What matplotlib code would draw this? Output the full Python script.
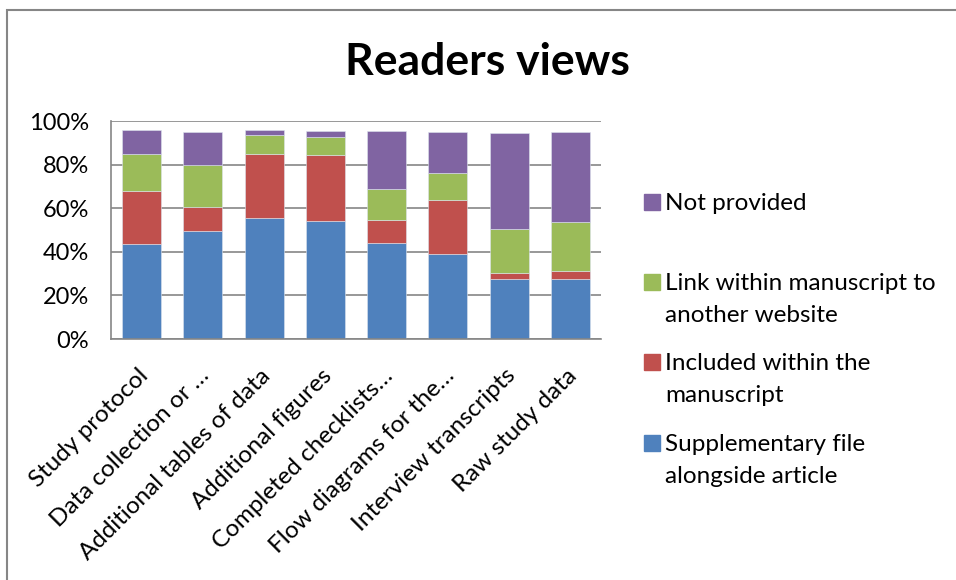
import matplotlib
matplotlib.use("Agg")
import matplotlib.pyplot as plt
import matplotlib.transforms as mtransforms
from matplotlib.patches import Rectangle
from matplotlib.ticker import PercentFormatter

# --- Data (percent of readers) ---
categories = ["Study protocol", "Data collection or \u2026", "Additional tables of data",
              "Additional figures", "Completed checklists\u2026", "Flow diagrams for the\u2026",
              "Interview transcripts", "Raw study data"]
supplementary = [43.6, 49.6, 55.4, 54.1, 44.0, 38.9, 27.6, 27.4]
included = [24.5, 11.2, 29.4, 30.3, 10.7, 24.8, 2.9, 3.8]
link = [16.7, 19.0, 9.0, 8.5, 14.3, 12.6, 19.9, 22.5]
not_provided = [11.2, 15.4, 2.2, 2.5, 26.4, 18.9, 44.1, 41.5]

series = [supplementary, included, link, not_provided]
series_labels = ["Supplementary file\nalongside article", "Included within the\nmanuscript",
                 "Link within manuscript to\nanother website", "Not provided"]
colors = ["#4F81BD", "#C0504D", "#9BBB59", "#8064A2"]

plt.rcParams['font.family'] = ['Lato', 'DejaVu Sans']

W, H = 956, 580
fig = plt.figure(figsize=(W / 100, H / 100), dpi=100)

def fx(x):
    return x / W

def fy(y):
    return 1 - y / H

# outer chart border
fig.patches.append(Rectangle((fx(7), fy(H + 20)), fx(W + 20), (H + 10) / H,
                             transform=fig.transFigure, fill=False,
                             edgecolor="#868686", linewidth=1.5))

ax = fig.add_axes([fx(111), fy(339), fx(601 - 111), (339 - 121.3) / H])

x = range(len(categories))
bottom = [0] * len(categories)
for vals, col in zip(series, colors):
    ax.bar(x, vals, width=0.64, bottom=bottom, color=col, edgecolor="#dde4ee", linewidth=0.4)
    bottom = [b + v for b, v in zip(bottom, vals)]

ax.set_xlim(-0.5, len(categories) - 0.5)
ax.set_ylim(0, 100)
ax.set_yticks([0, 20, 40, 60, 80, 100])
ax.yaxis.set_major_formatter(PercentFormatter(100, decimals=0))
ax.yaxis.grid(True, color="#868686", linewidth=1.2)
ax.set_axisbelow(True)
for s in ["top", "right"]:
    ax.spines[s].set_visible(False)
for s in ["left", "bottom"]:
    ax.spines[s].set_color("#868686")
    ax.spines[s].set_linewidth(1.2)
ax.tick_params(axis="y", length=0, pad=16, labelsize=17)
ax.tick_params(axis="x", length=0, pad=24, labelsize=17.5)
ax.set_xticks(list(x))
ax.set_xticklabels(categories, rotation=45, ha="right", va="center", rotation_mode="anchor")
offset = mtransforms.ScaledTranslation(3 / 100, 0, fig.dpi_scale_trans)
for lab in ax.get_xticklabels():
    lab.set_transform(lab.get_transform() + offset)

fig.text(fx(487), fy(75), "Readers views", ha="center", va="baseline",
         fontsize=32, fontweight="bold")

# legend, top entry first
legend_baselines = [210, 290, 370, 451]
for base, lab, col in zip(legend_baselines, series_labels[::-1], colors[::-1]):
    fig.patches.append(Rectangle((fx(644), fy(base)), fx(16), 16 / H,
                                 transform=fig.transFigure, color=col))
    for i, line in enumerate(lab.split("\n")):
        fig.text(fx(665), fy(base + i * 32), line, ha="left", va="baseline", fontsize=17.5)

fig.savefig("out.png", dpi=100)
